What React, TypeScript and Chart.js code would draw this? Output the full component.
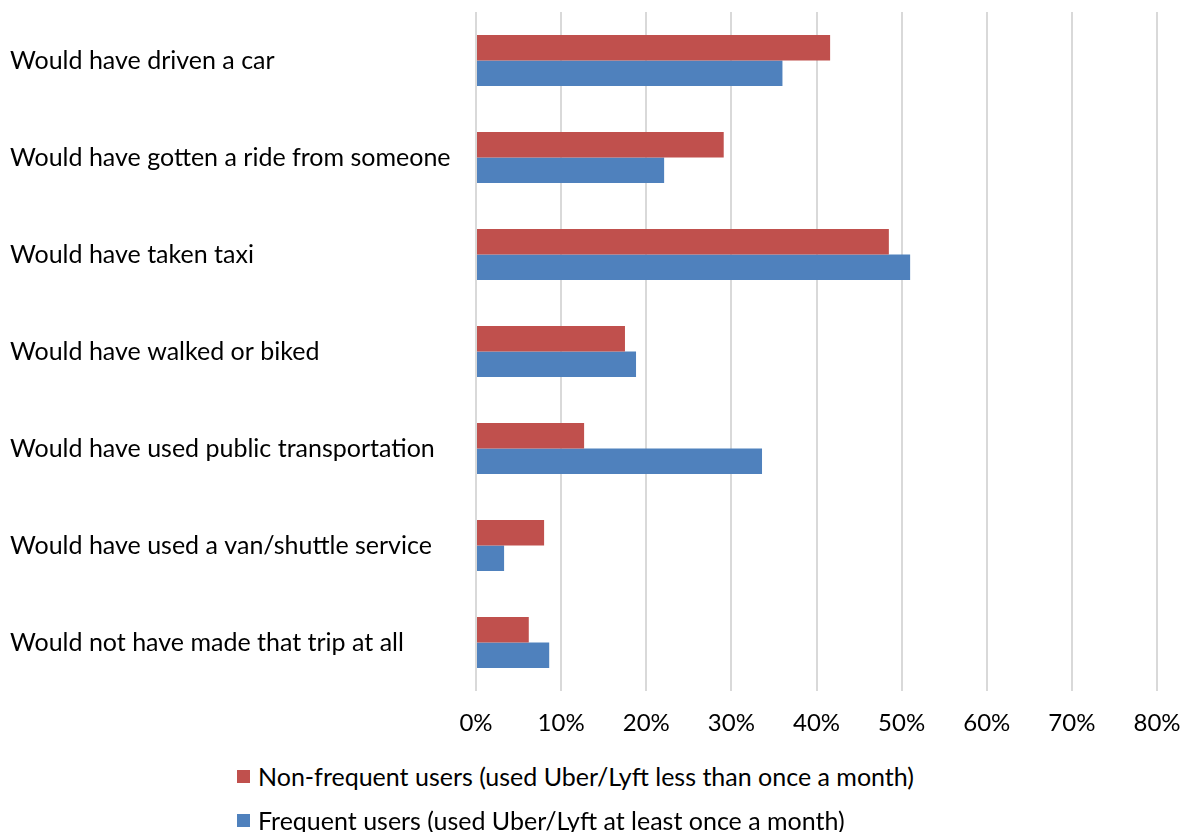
import React, { useEffect, useRef } from "react";
import { Chart, registerables } from "chart.js";

Chart.register(...registerables);

const categories = [
  "Would have driven a car",
  "Would have gotten a ride from someone",
  "Would have taken taxi",
  "Would have walked or biked",
  "Would have used public transportation",
  "Would have used a van/shuttle service",
  "Would not have made that trip at all",
];
const nonFrequentUsers = [41.6, 29.1, 48.5, 17.5, 12.7, 8.0, 6.2];
const frequentUsers = [36.0, 22.1, 51.0, 18.8, 33.6, 3.3, 8.6];
const seriesNames = [
  "Non-frequent users (used Uber/Lyft less than once a month)",
  "Frequent users (used Uber/Lyft at least once a month)",
];
const seriesColors = ["#C0504D", "#4F81BD"];
const xMin = 0;
const xMax = 80;
const xStep = 10;

const FONT = "Lato, 'Open Sans', sans-serif";

export default function App() {
  const ref = useRef<HTMLCanvasElement | null>(null);

  useEffect(() => {
    if (!ref.current) return;
    const chart = new Chart(ref.current, {
      type: "bar",
      data: {
        labels: categories,
        datasets: [
          {
            label: seriesNames[0],
            data: nonFrequentUsers,
            backgroundColor: seriesColors[0],
            categoryPercentage: 0.526,
            barPercentage: 1,
          },
          {
            label: seriesNames[1],
            data: frequentUsers,
            backgroundColor: seriesColors[1],
            categoryPercentage: 0.526,
            barPercentage: 1,
          },
        ],
      },
      options: {
        indexAxis: "y",
        animation: false,
        responsive: false,
        maintainAspectRatio: false,
        layout: { padding: { left: 10, right: 26, top: 12, bottom: 0 } },
        plugins: {
          legend: { display: false },
          tooltip: { enabled: false },
        },
        scales: {
          x: {
            min: xMin,
            max: xMax,
            ticks: {
              stepSize: xStep,
              callback: (v: any) => v + "%",
              color: "#000",
              font: { family: FONT, size: 24 },
              padding: 18,
            },
            grid: { color: "#d9d9d9", lineWidth: 2, drawTicks: false },
            border: { display: false },
            afterFit: (s: any) => {
              s.height = 69;
              s.paddingLeft = 0;
              s.paddingRight = 0;
            },
          },
          y: {
            ticks: {
              crossAlign: "far",
              color: "#000",
              font: { family: FONT, size: 25 },
            },
            grid: { display: false },
            border: { display: false },
            afterFit: (s: any) => {
              s.width = 466;
              s.paddingTop = 0;
              s.paddingBottom = 0;
            },
          },
        },
      },
    });
    return () => chart.destroy();
  }, []);

  return (
    <div
      style={{
        position: "fixed",
        left: 0,
        top: 0,
        width: 1183,
        height: 832,
        background: "#fff",
        fontFamily: FONT,
      }}
    >
      <canvas ref={ref} width={1183} height={760} style={{ display: "block" }} />
      {seriesNames.map((name, i) => (
        <div
          key={name}
          style={{
            position: "absolute",
            left: 237,
            top: 761 + i * 44,
            height: 30,
            display: "flex",
            alignItems: "center",
            fontSize: 25,
            color: "#000",
            whiteSpace: "nowrap",
          }}
        >
          <span
            style={{
              display: "inline-block",
              width: 13,
              height: 13,
              background: seriesColors[i],
              marginRight: 8,
            }}
          />
          {name}
        </div>
      ))}
    </div>
  );
}
